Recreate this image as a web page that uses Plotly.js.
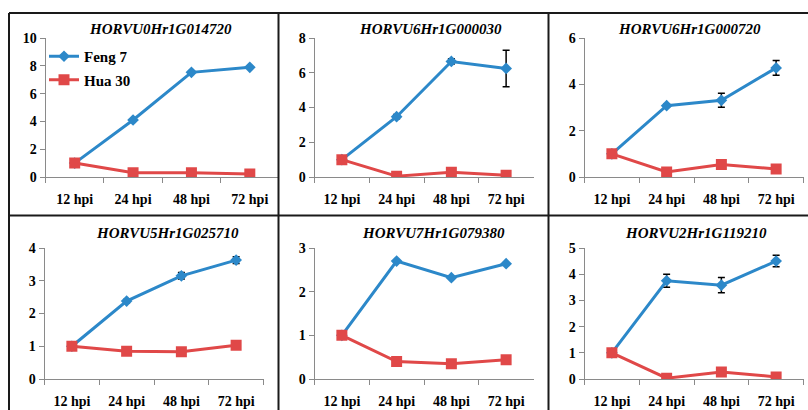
<!DOCTYPE html>
<html>
<head>
<meta charset="utf-8">
<script src="https://cdn.plot.ly/plotly-3.0.1.min.js"></script>
<style>html,body{margin:0;padding:0;background:#fff;}#chart{width:808px;height:410px;}</style>
</head>
<body>
<div id="chart"></div>
<script>
// ---- Data ----
const categories = ['12 hpi', '24 hpi', '48 hpi', '72 hpi'];
const genes = ['HORVU0Hr1G014720', 'HORVU6Hr1G000030', 'HORVU6Hr1G000720',
               'HORVU5Hr1G025710', 'HORVU7Hr1G079380', 'HORVU2Hr1G119210'];
const seriesNames = ['Feng 7', 'Hua 30'];

const feng7_g1 = [1, 4.1, 7.53, 7.89];
const hua30_g1 = [1, 0.31, 0.31, 0.22];
const feng7Err_g1 = [0, 0, 0, 0];

const feng7_g2 = [1, 3.47, 6.65, 6.25];
const hua30_g2 = [1, 0.05, 0.27, 0.1];
const feng7Err_g2 = [0, 0.12, 0.15, 1.05];

const feng7_g3 = [1, 3.08, 3.31, 4.71];
const hua30_g3 = [1, 0.22, 0.54, 0.35];
const feng7Err_g3 = [0, 0.06, 0.3, 0.32];

const feng7_g4 = [1, 2.38, 3.15, 3.63];
const hua30_g4 = [1, 0.85, 0.83, 1.03];
const feng7Err_g4 = [0, 0.05, 0.1, 0.1];

const feng7_g5 = [1, 2.7, 2.32, 2.64];
const hua30_g5 = [1, 0.4, 0.35, 0.44];
const feng7Err_g5 = [0, 0, 0, 0];

const feng7_g6 = [1, 3.75, 3.58, 4.5];
const hua30_g6 = [1, 0.03, 0.27, 0.08];
const feng7Err_g6 = [0, 0.25, 0.29, 0.22];

const yMax = [10, 8, 6, 4, 3, 5];
const yStep = [2, 2, 2, 1, 1, 1];

// ---- Layout helpers ----
const W = 808, H = 410;
const fx = v => v / W;
const fy = v => 1 - v / H;
const FONT = 'Liberation Serif';
const BLUE = '#2c88c9';
const RED = '#e04848';
const AXC = '#8a8a8a';

const fengAll = [feng7_g1, feng7_g2, feng7_g3, feng7_g4, feng7_g5, feng7_g6];
const huaAll = [hua30_g1, hua30_g2, hua30_g3, hua30_g4, hua30_g5, hua30_g6];
const errAll = [feng7Err_g1, feng7Err_g2, feng7Err_g3, feng7Err_g4, feng7Err_g5, feng7Err_g6];

// pixel frames of each plot area [x0,x1],[ytop,ybottom]; title centre
const frames = [
  {x: [45.5, 279], y: [38, 177], t: [160, 29]},
  {x: [314.5, 533.5], y: [38, 177], t: [430, 29]},
  {x: [584.5, 803.5], y: [38, 177], t: [689, 29]},
  {x: [44.5, 263.5], y: [248, 379], t: [167, 233]},
  {x: [314.5, 533.5], y: [248, 379], t: [433, 233]},
  {x: [584.5, 803.5], y: [248, 379], t: [696, 233]}
];

const traces = [];
const layout = {
  width: W, height: H,
  margin: {l: 0, r: 0, t: 0, b: 0},
  paper_bgcolor: '#fff', plot_bgcolor: 'rgba(0,0,0,0)',
  font: {family: FONT, color: '#000'},
  showlegend: true,
  legend: {
    x: fx(44), y: fy(40), xanchor: 'left', yanchor: 'top',
    bgcolor: 'rgba(0,0,0,0)', borderwidth: 0,
    font: {family: FONT, size: 15, weight: 'bold', color: '#000'},
    tracegroupgap: 1, itemwidth: 30
  },
  annotations: [], shapes: []
};

frames.forEach((f, i) => {
  const n = i + 1;
  const xa = n === 1 ? 'x' : 'x' + n;
  const ya = n === 1 ? 'y' : 'y' + n;
  traces.push({
    type: 'scatter', mode: 'lines+markers', x: categories, y: fengAll[i],
    xaxis: xa, yaxis: ya, name: seriesNames[0], legendgroup: 'a',
    showlegend: i === 0,
    line: {color: BLUE, width: 3},
    marker: {symbol: 'diamond', size: 9, color: BLUE},
    error_y: {type: 'data', array: errAll[i], visible: true, color: '#000', thickness: 1.5, width: 3.5}
  });
  traces.push({
    type: 'scatter', mode: 'lines+markers', x: categories, y: huaAll[i],
    xaxis: xa, yaxis: ya, name: seriesNames[1], legendgroup: 'b',
    showlegend: i === 0,
    line: {color: RED, width: 3},
    marker: {symbol: 'square', size: 11, color: RED}
  });
  const tickfont = {family: FONT, size: 14, weight: 'bold', color: '#000'};
  layout['xaxis' + (n === 1 ? '' : n)] = {
    domain: [fx(f.x[0]), fx(f.x[1])], anchor: ya, type: 'category',
    range: [-0.5, 3.5], showline: true, linecolor: AXC, linewidth: 1,
    ticks: 'outside', tickson: 'boundaries', ticklen: 5, tickcolor: AXC,
    tickfont: tickfont, ticklabelstandoff: 9,
    showgrid: false, zeroline: false, fixedrange: true
  };
  layout['yaxis' + (n === 1 ? '' : n)] = {
    domain: [fy(f.y[1]), fy(f.y[0])], anchor: xa,
    range: [0, yMax[i]], dtick: yStep[i], tick0: 0,
    showline: true, linecolor: AXC, linewidth: 1,
    ticks: 'outside', ticklen: 5, tickcolor: AXC,
    tickfont: tickfont, showgrid: false, zeroline: false, fixedrange: true
  };
  layout.annotations.push({
    xref: 'paper', yref: 'paper', x: fx(f.t[0]), y: fy(f.t[1]),
    xanchor: 'center', yanchor: 'middle', showarrow: false,
    text: genes[i],
    font: {family: FONT, size: 15, weight: 'bold', style: 'italic', color: '#000'}
  });
});

// panel frame lines
const BC = '#1a1a1a';
const seg = (x0, y0, x1, y1) => ({type: 'line', xref: 'paper', yref: 'paper',
  x0: fx(x0), y0: fy(y0), x1: fx(x1), y1: fy(y1), line: {color: BC, width: 2}});
layout.shapes.push(seg(9, 13, 808, 13));
layout.shapes.push(seg(9, 13, 9, 410));
layout.shapes.push(seg(278.5, 13, 278.5, 410));
layout.shapes.push(seg(548.5, 13, 548.5, 410));
layout.shapes.push(seg(9, 215.5, 808, 215.5));

Plotly.newPlot('chart', traces, layout, {displayModeBar: false, staticPlot: true});
</script>
</body>
</html>
